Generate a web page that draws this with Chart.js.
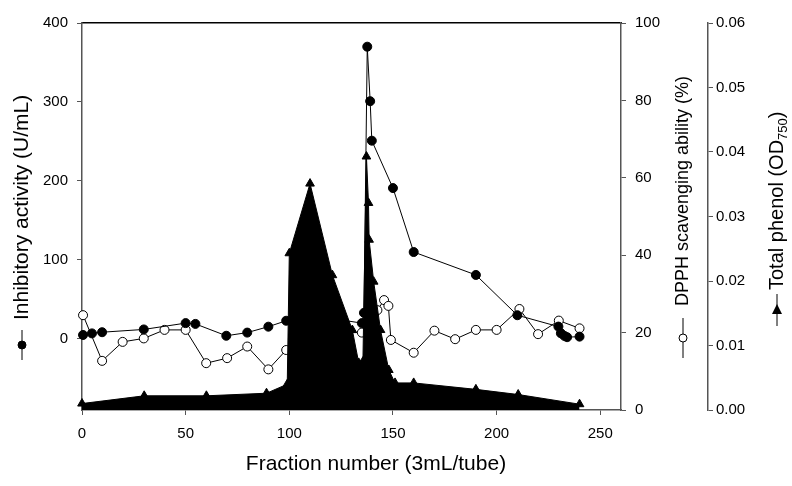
<!DOCTYPE html>
<html>
<head>
<meta charset="utf-8">
<script src="https://cdn.jsdelivr.net/npm/chart.js@4/dist/chart.umd.min.js"></script>
<style>
  body { margin: 0; background: #fff; }
</style>
</head>
<body>
<canvas id="chartFractions" width="792" height="486"></canvas>
<script>
// fraction numbers and values for each series
var fracInhib = [0.5, 4.8, 9.7, 29.8, 50, 54.7, 69.6, 79.7, 89.9, 98.5, 105, 115, 125, 135, 136, 137.6, 139, 139.8, 150, 160, 190, 210, 229.8, 231, 232.7, 234, 240];
var inhibitory = [5, 7, 8.5, 12, 20, 19, 4, 8, 15.5, 23, 22, 20, 24, 20, 33, 370, 301, 251, 191, 110, 81, 30, 15.6, 7.2, 3.8, 2.2, 2.9];

var fracDpph = [0.5, 9.7, 19.6, 29.8, 39.8, 50, 59.9, 70, 79.7, 89.9, 98.5, 105, 115, 125, 135, 140, 142.5, 145.7, 147.8, 149, 160, 170, 180, 190, 200, 211, 220, 230, 240];
var dpph = [24.5, 12.7, 17.6, 18.5, 20.7, 20.7, 12.1, 13.4, 16.4, 10.5, 15.5, 20, 22, 20, 20, 22, 25.8, 28.4, 26.9, 18.1, 14.8, 20.5, 18.3, 20.7, 20.7, 26.1, 19.6, 23.1, 21.1];

var fracPhenol = [0, 30, 60, 89, 99, 100, 110, 120.8, 130.4, 133.5, 135.5, 137.2, 138.2, 138.5, 140.7, 144, 148, 151, 160, 190, 210.4, 240];
var phenol = [0.001, 0.0022, 0.0022, 0.0026, 0.004, 0.0243, 0.0351, 0.0209, 0.0124, 0.0073, 0.0075, 0.0393, 0.0321, 0.0264, 0.0199, 0.0124, 0.0062, 0.0042, 0.0042, 0.0032, 0.0024, 0.0009];

var xTicks = [0, 50, 100, 150, 200, 250];
var inhibTicks = [0, 100, 200, 300, 400];
var dpphTicks = [0, 20, 40, 60, 80, 100];
var phenolTicks = [0, 0.01, 0.02, 0.03, 0.04, 0.05, 0.06];

var FONT = "'Liberation Sans', Arial, sans-serif";
var AXIS = '#555';

function toPoints(xs, ys) {
  return xs.map(function (x, i) { return { x: x, y: ys[i] }; });
}

function fixTicks(list) {
  return function (axis) {
    axis.ticks = list.map(function (v) { return { value: v }; });
  };
}

// rotated side titles with their little series symbol (read bottom to top)
function sideTitle(ctx, cx, bottomY, lineLen, gap, marker, parts) {
  ctx.save();
  ctx.translate(cx, bottomY);
  ctx.rotate(-Math.PI / 2);
  ctx.strokeStyle = '#000';
  ctx.lineWidth = 1;
  ctx.beginPath();
  ctx.moveTo(0, 0);
  ctx.lineTo(lineLen, 0);
  ctx.stroke();
  var m = lineLen / 2;
  ctx.beginPath();
  if (marker == 'tri') {
    ctx.moveTo(m + 6, 0);
    ctx.lineTo(m - 4, -5);
    ctx.lineTo(m - 4, 5);
    ctx.closePath();
    ctx.fillStyle = '#000';
    ctx.fill();
  } else {
    ctx.arc(m, 0, 4, 0, Math.PI * 2);
    ctx.fillStyle = marker == 'open' ? '#fff' : '#000';
    ctx.fill();
    ctx.stroke();
  }
  ctx.fillStyle = '#000';
  ctx.textBaseline = 'middle';
  ctx.textAlign = 'left';
  var x = lineLen + gap;
  parts.forEach(function (p) {
    ctx.font = p.size + 'px ' + FONT;
    ctx.fillText(p.text, x, p.dy || 0);
    x += ctx.measureText(p.text).width;
  });
  ctx.restore();
}

var titlesPlugin = {
  id: 'sideTitles',
  afterDraw: function (chart) {
    var ctx = chart.ctx;
    sideTitle(ctx, 22, 360, 30, 10, 'filled', [{ text: 'Inhibitory activity (U/mL)', size: 21 }]);
    sideTitle(ctx, 683, 358, 40, 12, 'open', [{ text: 'DPPH scavenging ability (%)', size: 18 }]);
    sideTitle(ctx, 777, 326, 32, 4, 'tri', [
      { text: 'Total phenol (OD', size: 20 },
      { text: '750', size: 13, dy: 6 },
      { text: ')', size: 20 }
    ]);
    // x axis title
    ctx.save();
    ctx.font = '21px ' + FONT;
    ctx.fillStyle = '#000';
    ctx.textAlign = 'center';
    ctx.textBaseline = 'middle';
    ctx.fillText('Fraction number (3mL/tube)', 376, 464);
    ctx.restore();
  }
};

var dataLines = {
  datasets: [
    {
      label: 'Total phenol',
      data: toPoints(fracPhenol, phenol),
      yAxisID: 'yPhenol',
      borderColor: '#000',
      backgroundColor: '#000',
      borderWidth: 1,
      fill: 'origin',
      pointStyle: 'triangle',
      pointRadius: 5,
      pointBackgroundColor: '#000',
      pointBorderColor: '#000',
      clip: false,
      order: 0
    },
    {
      label: 'Inhibitory activity',
      data: toPoints(fracInhib, inhibitory),
      yAxisID: 'yInhib',
      borderColor: '#000',
      borderWidth: 1,
      fill: false,
      pointRadius: 4.5,
      pointBackgroundColor: '#000',
      pointBorderColor: '#000',
      clip: false,
      order: 1
    },
    {
      label: 'DPPH',
      data: toPoints(fracDpph, dpph),
      yAxisID: 'yDpph',
      borderColor: '#000',
      borderWidth: 1,
      fill: false,
      pointRadius: 4.5,
      pointBackgroundColor: '#fff',
      pointBorderColor: '#000',
      pointBorderWidth: 1,
      clip: false,
      order: 2
    }
  ]
};

var tickFont = { family: FONT, size: 15 };

var configLines = {
  type: 'line',
  data: dataLines,
  plugins: [titlesPlugin],
  options: {
    responsive: false,
    animation: false,
    devicePixelRatio: 1,
    layout: { padding: { top: 23, left: 0, right: 0, bottom: 0 } },
    plugins: { legend: { display: false }, tooltip: { enabled: false } },
    scales: {
      x: {
        type: 'linear',
        position: 'bottom',
        min: 0,
        max: 260,
        afterBuildTicks: fixTicks(xTicks),
        afterFit: function (s) { s.height = 76; },
        grid: { drawOnChartArea: false, tickLength: 5, color: AXIS },
        border: { color: AXIS, width: 1.5 },
        ticks: { font: tickFont, color: '#000', padding: 10, maxRotation: 0 }
      },
      xTop: {
        type: 'linear',
        position: 'top',
        min: 0,
        max: 260,
        display: true,
        afterFit: function (s) { s.height = 0; },
        grid: { display: false, drawTicks: false },
        ticks: { display: false },
        border: { color: '#000', width: 1.5 }
      },
      yInhib: {
        type: 'linear',
        position: 'left',
        min: -90,
        max: 400,
        afterBuildTicks: fixTicks(inhibTicks),
        afterFit: function (s) { s.width = 82; },
        grid: { drawOnChartArea: false, tickLength: 5, color: AXIS },
        border: { color: AXIS, width: 1.5 },
        ticks: { font: tickFont, color: '#000', padding: 9 }
      },
      yDpph: {
        type: 'linear',
        position: 'right',
        weight: 0,
        min: 0,
        max: 100,
        afterBuildTicks: fixTicks(dpphTicks),
        afterFit: function (s) { s.width = 87; },
        grid: { drawOnChartArea: false, tickLength: 5, color: AXIS },
        border: { color: AXIS, width: 1.5 },
        ticks: { font: tickFont, color: '#000', padding: 9 }
      },
      yPhenol: {
        type: 'linear',
        position: 'right',
        weight: 1,
        min: 0,
        max: 0.06,
        afterBuildTicks: fixTicks(phenolTicks),
        afterFit: function (s) { s.width = 84; },
        grid: { drawOnChartArea: false, tickLength: 5, color: AXIS },
        border: { color: AXIS, width: 1.5 },
        ticks: {
          font: tickFont, color: '#000', padding: 3,
          callback: function (v) { return v.toFixed(2); }
        }
      }
    }
  }
};

var chartLines = new Chart(document.getElementById('chartFractions'), configLines);
</script>
</body>
</html>
